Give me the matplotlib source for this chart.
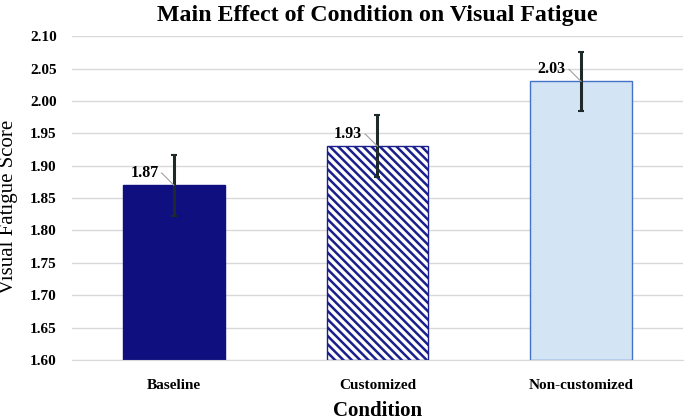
import matplotlib

matplotlib.use("Agg")
import matplotlib.pyplot as plt
import numpy as np

conditions = ["Baseline", "Customized", "Non-customized"]
means = [1.87, 1.93, 2.03]
errors = [0.047, 0.048, 0.046]
labels = ["1.87", "1.93", "2.03"]

plt.rcParams["font.family"] = ["Liberation Serif", "DejaVu Serif"]
plt.rcParams["font.weight"] = "bold"
plt.rcParams["hatch.linewidth"] = 1.8

fig = plt.figure(figsize=(6.85, 4.2), dpi=100)
ax = fig.add_axes([0.105, 0.143, 0.892, 0.771])

x = np.arange(len(conditions))
faces = ["#0F0F80", "white", "#D3E5F5"]
edges = ["#0F0F80", "#1A1F8C", "#4472C4"]
hatches = [None, "\\\\\\\\", None]
for i in range(len(conditions)):
    ax.bar(x[i], means[i] - 1.6, bottom=1.6, width=0.5, color=faces[i],
           edgecolor=edges[i], hatch=hatches[i], linewidth=1.0, zorder=2)

ax.errorbar(x, means, yerr=errors, fmt="none", ecolor="#1E2A2A",
            elinewidth=2.2, capsize=2, capthick=1.5, zorder=3)

for i, lab in enumerate(labels):
    ax.annotate(lab, xy=(x[i], means[i]), xytext=(x[i] - 0.075, means[i] + 0.0185),
                ha="right", va="center", fontsize=11.5, fontweight="bold",
                arrowprops=dict(arrowstyle="-", color="#A0A0A0", lw=0.8,
                                connectionstyle="angle,angleA=0,angleB=-45,rad=0",
                                shrinkA=0, shrinkB=0),
                zorder=4)

ax.set_xlim(-0.5, 2.5)
ax.set_ylim(1.6, 2.1)
yt = np.arange(1.6, 2.101, 0.05)
ax.set_yticks(yt)
ax.set_yticklabels([f"{v:.2f}" for v in yt], fontsize=11)
ax.set_xticks(x)
ax.set_xticklabels(conditions, fontsize=11)
ax.tick_params(axis="x", length=0, pad=14)
ax.tick_params(axis="y", length=0, pad=11)
ax.yaxis.grid(True, color="#D9D9D9", lw=1.0, zorder=0)
ax.set_axisbelow(True)
for s in ["top", "right", "left"]:
    ax.spines[s].set_visible(False)
ax.spines["bottom"].set_color("#D9D9D9")

ax.set_title("Main Effect of Condition on Visual Fatigue", fontsize=17.2,
             fontweight="bold", pad=11)
ax.set_xlabel("Condition", fontsize=15, fontweight="bold", labelpad=6)
fig.text(9 / 685, 1 - 207 / 420, "Visual Fatigue Score", rotation=90,
         ha="center", va="center", fontsize=15, fontweight="normal")

fig.savefig("out.png", dpi=100)
